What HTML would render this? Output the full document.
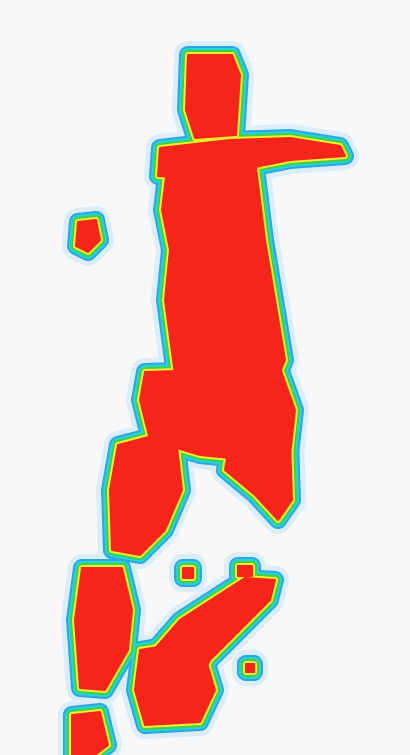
<!DOCTYPE html>
<html><head><meta charset="utf-8"><style>
html,body{margin:0;padding:0;background:#f7f8f9;}
svg{display:block}
</style></head><body>
<svg width="410" height="755" viewBox="0 0 410 755">
<rect x="0" y="0" width="410" height="755" fill="#f7f8f9"/>
<g id="layers"></g>
</svg>
<script>
// Region outlines (image coordinates) of the saturated heat areas
const regionNames = ["top-blob","arm","left-dot","left-column","right-column","middle-mass","lower-tail","left-lower","bottom-left-block","diagonal","diagonal-base","bottom-corner","dot-a","dot-b","dot-c"];
const regionPoints = [
 [[188,55],[232,55],[240,75],[236,135],[195,138],[186,110]],
 [[160,148],[230,140],[290,138],[340,146],[345,156],[290,160],[250,168],[200,178],[158,176]],
 [[78,222],[96,220],[100,240],[88,252],[76,246]],
 [[168,160],[208,160],[212,260],[210,380],[175,375],[165,300],[170,250],[162,210]],
 [[205,160],[255,160],[265,240],[275,300],[285,360],[275,385],[205,385],[205,300]],
 [[145,372],[280,368],[295,410],[290,455],[250,460],[200,455],[150,440],[140,400]],
 [[230,440],[290,440],[292,500],[278,520],[255,495],[225,470]],
 [[118,445],[175,430],[182,490],[165,530],[140,555],[112,550],[110,490]],
 [[82,568],[122,568],[132,610],[128,650],[105,690],[80,688],[75,620]],
 [[180,620],[245,578],[275,580],[270,600],[210,660],[190,700],[150,700],[145,660]],
 [[140,650],[200,640],[215,690],[200,722],[145,725],[135,690]],
 [[72,715],[100,712],[108,745],[95,755],[72,755]],
 [[183,568],[193,568],[193,578],[183,578]],
 [[246,664],[254,664],[254,672],[246,672]],
 [[238,566],[252,566],[252,576],[238,576]]
];
const haloColors = ["#dcecf8","#2aa7e8","#27d4d0","#3fcf4a","#f2ee2a","#f5251a"];
const haloWidths = [28,18,14,10,6,2];
const g = document.getElementById('layers');
haloColors.forEach((c, li) => {
  regionPoints.forEach((pts, ri) => {
    const p = document.createElementNS('http://www.w3.org/2000/svg','polygon');
    p.setAttribute('points', pts.map(q => q.join(',')).join(' '));
    p.setAttribute('fill', c);
    p.setAttribute('stroke', c);
    p.setAttribute('stroke-width', haloWidths[li]);
    p.setAttribute('stroke-linejoin', 'round');
    
    
    g.appendChild(p);
  });
});
</script>
</body></html>
